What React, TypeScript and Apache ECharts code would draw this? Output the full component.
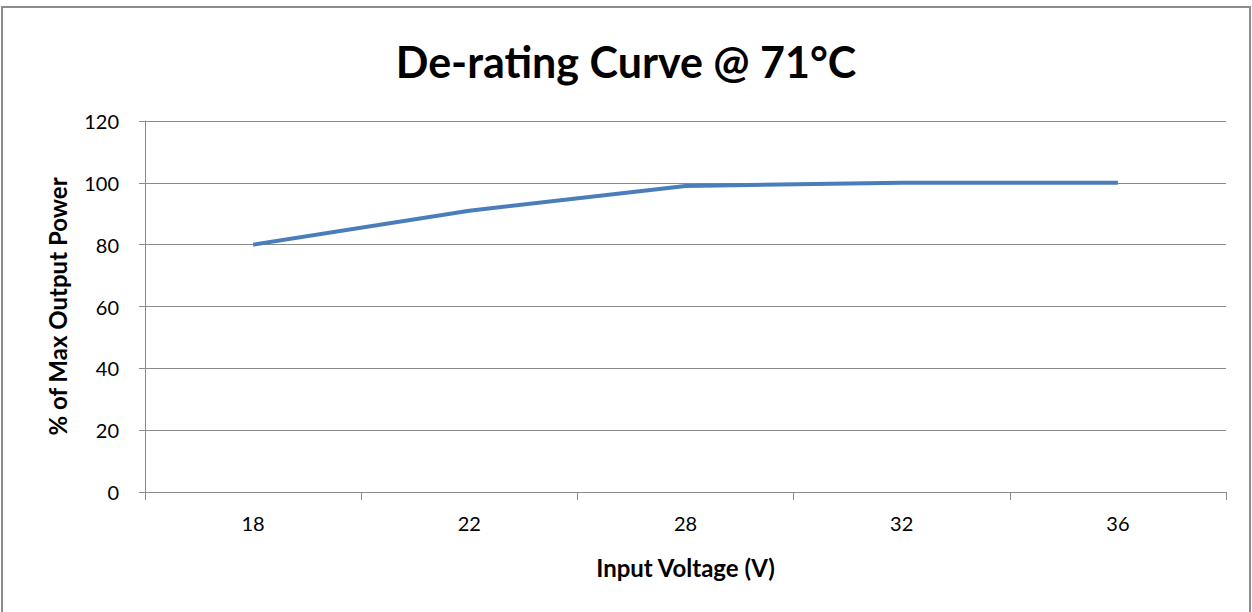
import React, { useEffect, useRef } from "react";
import * as echarts from "echarts";

const categories = ["18", "22", "28", "32", "36"];
const values = [80, 91, 99, 100, 100];
const titleText = "De-rating Curve @ 71°C";
const xName = "Input Voltage (V)";
const yName = "% of Max Output Power";

const FONT = "Lato";

export default function App() {
  const ref = useRef<HTMLDivElement>(null);
  useEffect(() => {
    if (!ref.current) return;
    const chart = echarts.init(ref.current, null, { renderer: "svg" });
    chart.setOption({
      animation: false,
      backgroundColor: "#ffffff",
      title: {
        text: titleText,
        left: "center",
        top: 35,
        textStyle: { fontFamily: FONT, fontSize: 43, fontWeight: "bold", color: "#000" },
      },
      graphic: [
        {
          type: "rect",
          shape: { x: 2, y: 7, width: 1248, height: 640 },
          style: { fill: "none", stroke: "#8c8c8c", lineWidth: 2 },
          silent: true,
        },
      ],
      grid: { left: 145, right: 26, top: 121, bottom: 120 },
      xAxis: {
        type: "category",
        data: categories,
        boundaryGap: true,
        name: xName,
        nameLocation: "middle",
        nameGap: 63,
        nameTextStyle: { fontFamily: FONT, fontSize: 24, fontWeight: "bold", color: "#000" },
        axisLine: { lineStyle: { color: "#8a8a8a", width: 1 } },
        axisTick: { show: true, length: 8, lineStyle: { color: "#8a8a8a" } },
        axisLabel: { fontFamily: FONT, fontSize: 20, color: "#000", margin: 21 },
        splitLine: { show: false },
      },
      yAxis: {
        type: "value",
        min: 0,
        max: 120,
        interval: 20,
        name: yName,
        nameLocation: "middle",
        nameGap: 76,
        nameTextStyle: { fontFamily: FONT, fontSize: 24, fontWeight: "bold", color: "#000" },
        axisLine: { show: true, lineStyle: { color: "#8a8a8a", width: 1 } },
        axisTick: { show: true, inside: false, length: 6, lineStyle: { color: "#8a8a8a" } },
        axisLabel: { fontFamily: FONT, fontSize: 20, color: "#000", margin: 26 },
        splitLine: { show: true, lineStyle: { color: "#8a8a8a", width: 1 } },
      },
      series: [
        {
          type: "line",
          data: values,
          symbol: "none",
          lineStyle: { color: "#4a7ebb", width: 4 },
        },
      ],
    });
    return () => chart.dispose();
  }, []);
  return (
    <div
      ref={ref}
      style={{ position: "absolute", left: 0, top: 0, width: 1252, height: 612 }}
    />
  );
}
